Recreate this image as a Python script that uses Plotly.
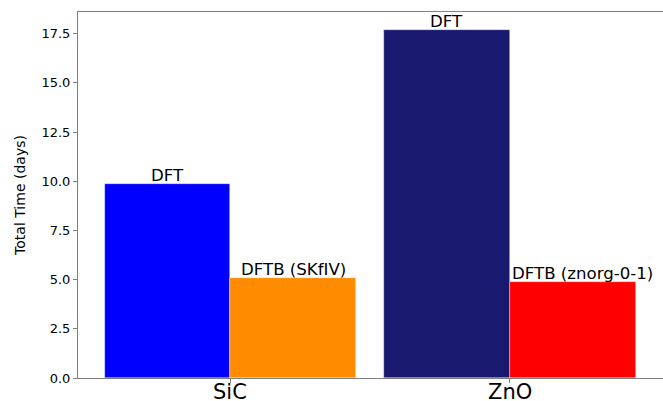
import numpy as np
import plotly.graph_objects as go

categories = ["SiC", "ZnO"]
dft_values = [9.87, 17.70]
dftb_values = [5.08, 4.89]
dft_labels = ["DFT", "DFT"]
dftb_labels = ["DFTB (SKfIV)", "DFTB (znorg-0-1)"]
dft_colors = ["#0000FF", "#191970"]
dftb_colors = ["#FF8C00", "#FF0000"]
y_ticks = [0.0, 2.5, 5.0, 7.5, 10.0, 12.5, 15.0, 17.5]

idx = np.arange(len(categories))
w = 0.45

fig = go.Figure()
fig.add_trace(go.Bar(x=idx, y=dft_values, width=w, offset=-w,
                     marker=dict(color=dft_colors, line=dict(width=0.6, color="rgba(255,255,255,0.6)")),
                     showlegend=False, hoverinfo="skip"))
fig.add_trace(go.Bar(x=idx, y=dftb_values, width=w, offset=0,
                     marker=dict(color=dftb_colors, line=dict(width=0.6, color="rgba(255,255,255,0.6)")),
                     showlegend=False, hoverinfo="skip"))

font_family = "DejaVu Sans"
xshifts_dftb = [0, 10]
for i in idx:
    fig.add_annotation(x=i - w / 2, y=dft_values[i], text=dft_labels[i], showarrow=False,
                       xanchor="center", yanchor="bottom", yshift=-3,
                       font=dict(family=font_family, size=16.6, color="black"))
    fig.add_annotation(x=i + w / 2, y=dftb_values[i], text=dftb_labels[i], showarrow=False,
                       xanchor="center", yanchor="bottom", yshift=-3, xshift=xshifts_dftb[i],
                       font=dict(family=font_family, size=16.6, color="black"))
    # category label under the axis
    fig.add_annotation(x=i, y=0, yref="paper", text=categories[i], showarrow=False,
                       xanchor="center", yanchor="top", yshift=0,
                       font=dict(family=font_family, size=21, color="black"))

fig.update_layout(
    width=663, height=401,
    margin=dict(l=78, r=0, t=12, b=23),
    plot_bgcolor="white", paper_bgcolor="white",
    font=dict(family=font_family, color="black"),
    bargap=0, barmode="overlay",
)
fig.update_xaxes(
    range=[-0.545, -0.545 + 585 / 279.5],
    tickmode="array", tickvals=idx, showticklabels=False,
    ticks="outside", ticklen=4, tickcolor="#808080",
    showline=True, linecolor="#808080", linewidth=1, mirror=True,
    showgrid=False, zeroline=False, automargin=False,
)
fig.update_yaxes(
    range=[0, 18.6],
    tickmode="array", tickvals=y_ticks, ticktext=[f"{v:.1f}" for v in y_ticks],
    tickfont=dict(size=13, family=font_family, color="black"),
    ticks="outside", ticklen=4, tickcolor="#808080",
    showline=True, linecolor="#808080", linewidth=1, mirror=False,
    showgrid=False, zeroline=False, automargin=False,
    title=dict(text="Total Time (days)", font=dict(size=14, family=font_family, color="black"), standoff=12),
)

fig.write_html("out.html",
               config={"displayModeBar": False},
               post_script="document.body.style.margin='0';document.body.style.overflow='hidden';")
